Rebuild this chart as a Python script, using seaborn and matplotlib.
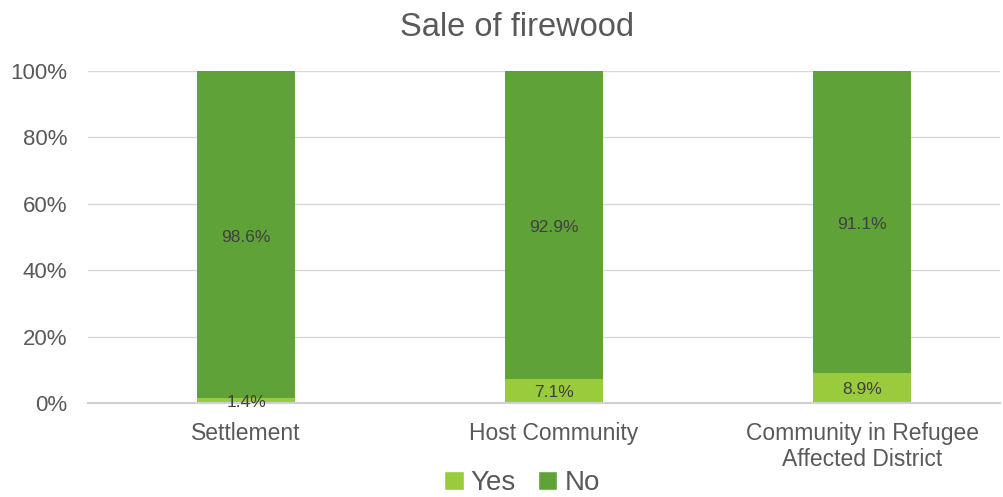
import matplotlib
matplotlib.use("Agg")
import matplotlib.pyplot as plt
import seaborn as sns
import pandas as pd
from matplotlib.patches import Patch

categories = ["Settlement", "Host Community", "Community in Refugee\nAffected District"]
yes_pct = [1.4, 7.1, 8.9]
no_pct = [98.6, 92.9, 91.1]
y_ticks = [0, 20, 40, 60, 80, 100]

YES_COLOR = "#9ACB3C"
NO_COLOR = "#5FA237"
TEXT = "#595959"

sns.set_style("white")
plt.rcParams["font.family"] = ["Liberation Sans", "DejaVu Sans"]

df = pd.DataFrame({"category": categories, "Yes": yes_pct, "No": no_pct})

fig = plt.figure(figsize=(10.04, 4.97), dpi=100)
ax = fig.add_axes([88 / 1004, 1 - 403 / 497, (1000 - 88) / 1004, 332 / 497])

bar_w = 0.32
sns.barplot(data=df, x="category", y="Yes", color=YES_COLOR, width=bar_w,
            saturation=1, linewidth=0, ax=ax, zorder=3)
sns.barplot(data=df, x="category", y="No", bottom=df["Yes"], color=NO_COLOR,
            width=bar_w, saturation=1, linewidth=0, ax=ax, zorder=3)

for i, (y, n) in enumerate(zip(yes_pct, no_pct)):
    ax.text(i, y / 2 - 0.4, f"{y}%", ha="center", va="center", fontsize=12.5,
            color="#404040", zorder=5)
    ax.text(i, y + n / 2 - 0.8, f"{n}%", ha="center", va="center", fontsize=12.5,
            color="#404040", zorder=5)

ax.set_xlim(-0.513, 2.448)
ax.set_ylim(0, 100)
ax.set_yticks(y_ticks)
ax.set_yticklabels([f"{t}%" for t in y_ticks])
ax.yaxis.grid(True, color="#D9D9D9", linewidth=1, zorder=0)
ax.set_axisbelow(True)
for s in ["top", "right", "left"]:
    ax.spines[s].set_visible(False)
ax.spines["bottom"].set_color("#D0D0D0")
ax.spines["bottom"].set_linewidth(1.5)
ax.spines["bottom"].set_zorder(4)
ax.tick_params(axis="y", length=0, pad=15, labelsize=16, labelcolor=TEXT)
ax.tick_params(axis="x", length=0, pad=14, labelsize=16.5, labelcolor=TEXT)
for lbl in ax.get_xticklabels():
    lbl.set_linespacing(1.15)
ax.set_xlabel("")
ax.set_ylabel("")

fig.text(517 / 1004, 1 - 28 / 497, "Sale of firewood", ha="center", va="center",
         fontsize=23.5, color=TEXT)

handles = [Patch(facecolor=YES_COLOR, label="Yes"), Patch(facecolor=NO_COLOR, label="No")]
fig.legend(handles=handles, loc="center", bbox_to_anchor=(522 / 1004, 1 - 483 / 497),
           ncol=2, frameon=False, fontsize=20, labelcolor=TEXT, handlelength=0.7,
           handleheight=0.7, handletextpad=0.25, columnspacing=0.8,
           borderpad=0.1)

fig.savefig("out.png", dpi=100)
